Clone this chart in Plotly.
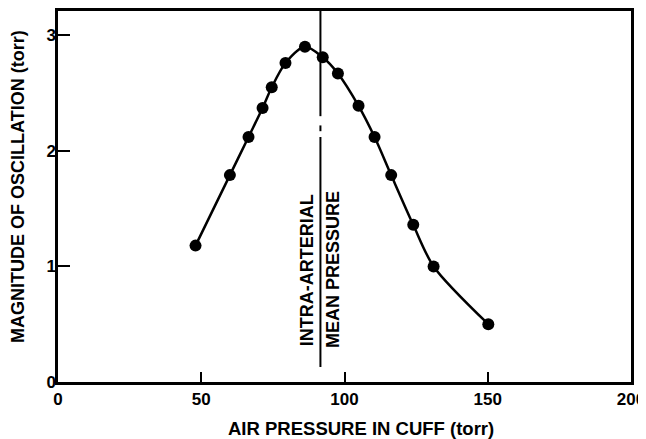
import plotly.graph_objects as go

# Data
pressure = [48, 60, 66.5, 71.4, 74.6, 79.4, 86.2, 92.4, 97.7, 104.9, 110.5, 116.3, 124.0, 131.1, 150.2]
oscillation = [1.18, 1.79, 2.12, 2.37, 2.55, 2.76, 2.90, 2.81, 2.67, 2.39, 2.12, 1.79, 1.36, 1.00, 0.50]
mean_pressure = 91.6
x_ticks = [0, 50, 100, 150, 200]
x_tick_labels = ["0", "50", "100", "150", "200"]
y_ticks = [0, 1, 2, 3]
y_tick_labels = ["0", "1", "2", "3"]

FONT = "Liberation Sans"
OFF = 8  # page body margin in the browser
W, H = 646 - OFF, 439 - OFF
# plot area in screen pixels of the reference
SX0, SX1, SY0, SY1 = 58, 631, 11, 382
ML, MT = SX0 - OFF, SY0 - OFF
MR, MB = W - (SX1 - OFF), H - (SY1 - OFF)
PW, PH = W - ML - MR, H - MT - MB


def px_x(sx):
    return (sx - SX0) / PW


def px_y(sy):
    return (SY1 - sy) / PH


def bold(size):
    return dict(family=FONT, size=size, color="black", weight="bold")


fig = go.Figure()
fig.add_trace(go.Scatter(
    x=pressure, y=oscillation, mode="lines+markers",
    line=dict(color="black", width=2.5, shape="spline", smoothing=0.8),
    marker=dict(color="black", size=12),
    showlegend=False, hoverinfo="skip",
))

# vertical mean pressure line (with small break like the original)
segs = [(2.30, 3.25), (2.17, 2.22), (0.13, 2.12)]
for y0, y1 in segs:
    fig.add_shape(type="line", x0=mean_pressure, x1=mean_pressure, y0=y0, y1=y1,
                  xref="x", yref="y", line=dict(color="black", width=2))

fig.add_annotation(x=87.0, y=0.97, xref="x", yref="y", text="INTRA-ARTERIAL",
                   textangle=-90, showarrow=False, font=bold(18))
fig.add_annotation(x=96.0, y=0.97, xref="x", yref="y", text="MEAN PRESSURE",
                   textangle=-90, showarrow=False, font=bold(18))

fig.add_annotation(x=px_x(18), y=px_y(187), xref="paper", yref="paper",
                   text="MAGNITUDE OF OSCILLATION (torr)", textangle=-90, showarrow=False,
                   xanchor="center", yanchor="middle", font=bold(18))
fig.add_annotation(x=px_x(361), y=px_y(428), xref="paper", yref="paper",
                   text="AIR PRESSURE IN CUFF (torr)", showarrow=False,
                   xanchor="center", yanchor="middle", font=bold(18.5))

fig.update_layout(
    width=W, height=H,
    margin=dict(l=ML, r=MR, t=MT, b=MB, autoexpand=False),
    plot_bgcolor="white", paper_bgcolor="white",
    font=bold(17),
    xaxis=dict(range=[0, 200], tickvals=x_ticks, ticktext=x_tick_labels,
               tickfont=bold(17),
               ticks="inside", ticklen=10, tickwidth=2, tickcolor="black",
               showline=True, linecolor="black", linewidth=2.5, mirror=True,
               showgrid=False, zeroline=False),
    yaxis=dict(range=[0, 3.21], tickvals=y_ticks, ticktext=y_tick_labels,
               tickfont=bold(17), ticklabelstandoff=-4,
               ticks="inside", ticklen=12, tickwidth=2, tickcolor="black",
               showline=True, linecolor="black", linewidth=2.5, mirror=True,
               showgrid=False, zeroline=False),
)

fig.write_html("out.html")
